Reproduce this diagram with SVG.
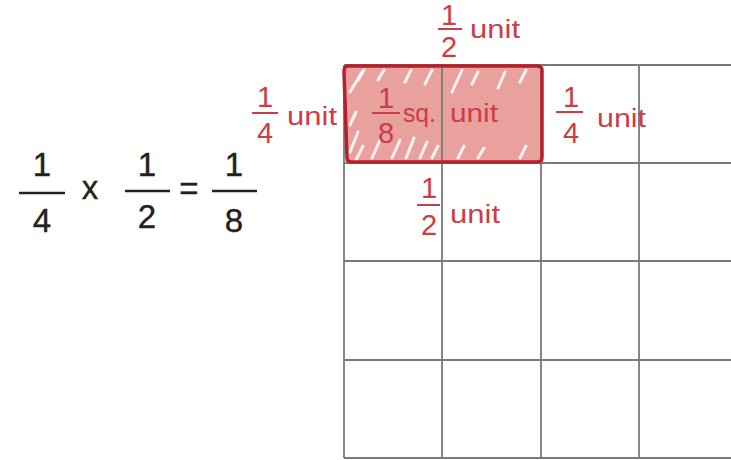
<svg xmlns="http://www.w3.org/2000/svg" width="731" height="460" viewBox="0 0 731 460">
<style>
.eq{font-family:"Liberation Sans",Arial,sans-serif;font-size:33px;fill:#222;text-anchor:middle;stroke:#222;stroke-width:0.4}
.bar{stroke:#222;stroke-width:2.5}
.grid line{stroke:#7a7a7a;stroke-width:1.8}
.lbl{font-family:"Liberation Sans",Arial,sans-serif;font-size:29px;fill:#cc3d48;text-anchor:middle}
.unit{font-family:"Liberation Sans",Arial,sans-serif;font-size:25px;fill:#cc3d48}
.rbar{stroke:#cc3d48;stroke-width:2}
.hatch line{stroke:#fff;stroke-width:3;stroke-linecap:round;opacity:0.85}
</style>
<rect width="731" height="460" fill="#fff"/>
<g id="equation">
<text class="eq" x="42" y="176">1</text>
<line class="bar" x1="19" y1="193" x2="65" y2="193"/>
<text class="eq" x="42" y="232">4</text>
<text class="eq" x="90" y="199">x</text>
<text class="eq" x="147" y="176">1</text>
<line class="bar" x1="125" y1="191" x2="170" y2="191"/>
<text class="eq" x="147" y="228">2</text>
<text class="eq" x="189" y="200">=</text>
<text class="eq" x="234" y="176">1</text>
<line class="bar" x1="212" y1="191" x2="257" y2="191"/>
<text class="eq" x="234" y="232">8</text>
</g>
<g id="shaded-region">
<path d="M348,66 Q344,66 344,72 L347,158 Q347,162 352,162 L538,162 Q542,162 542,157 L542,70 Q542,66 537,66 Z" fill="#e9a19d"/>
<g class="hatch">
<line x1="350" y1="92" x2="362" y2="72"/>
<line x1="358" y1="80" x2="364" y2="70"/>
<line x1="378" y1="80" x2="384" y2="70"/>
<line x1="405" y1="82" x2="411" y2="70"/>
<line x1="425" y1="84" x2="432" y2="70"/>
<line x1="452" y1="92" x2="462" y2="70"/>
<line x1="472" y1="84" x2="478" y2="72"/>
<line x1="498" y1="88" x2="505" y2="72"/>
<line x1="520" y1="82" x2="526" y2="70"/>
<line x1="350" y1="152" x2="358" y2="132"/>
<line x1="356" y1="160" x2="363" y2="146"/>
<line x1="372" y1="158" x2="380" y2="140"/>
<line x1="392" y1="158" x2="400" y2="140"/>
<line x1="406" y1="158" x2="414" y2="138"/>
<line x1="420" y1="158" x2="427" y2="142"/>
<line x1="432" y1="158" x2="438" y2="146"/>
<line x1="458" y1="158" x2="464" y2="146"/>
<line x1="478" y1="158" x2="484" y2="148"/>
<line x1="520" y1="158" x2="526" y2="146"/>
<line x1="350" y1="125" x2="356" y2="112"/>
</g>
</g>
<g id="grid" class="grid">
<line x1="344" y1="65" x2="731" y2="65"/>
<line x1="344" y1="163" x2="731" y2="163"/>
<line x1="344" y1="261" x2="731" y2="261"/>
<line x1="344" y1="360" x2="731" y2="360"/>
<line x1="344" y1="458" x2="731" y2="458"/>
<line x1="344" y1="65" x2="344" y2="458"/>
<line x1="442" y1="65" x2="442" y2="458"/>
<line x1="541" y1="65" x2="541" y2="458"/>
<line x1="639" y1="65" x2="639" y2="458"/>
</g>
<g id="shaded-outline">
<path d="M348,66 Q344,66 344,72 L347,158 Q347,162 352,162 L538,162 Q542,162 542,157 L542,70 Q542,66 537,66 Z" fill="none" stroke="#b7202b" stroke-width="3.5" stroke-linejoin="round"/>
</g>
<g id="label-top">
<text class="lbl" x="449" y="25" font-size="27">1</text>
<line class="rbar" x1="438" y1="29" x2="462" y2="29"/>
<text class="lbl" x="449" y="57">2</text>
<text class="unit" x="470" y="38" textLength="50" lengthAdjust="spacingAndGlyphs">unit</text>
</g>
<g id="label-left">
<text class="lbl" x="265" y="107">1</text>
<line class="rbar" x1="252" y1="113" x2="278" y2="113"/>
<text class="lbl" x="265" y="143">4</text>
<text class="unit" x="287" y="125" textLength="50" lengthAdjust="spacingAndGlyphs">unit</text>
</g>
<g id="label-area">
<text class="lbl" x="386" y="108">1</text>
<line class="rbar" x1="372" y1="113" x2="400" y2="113"/>
<text class="lbl" x="386" y="143">8</text>
<text class="unit" x="403" y="122" textLength="33" lengthAdjust="spacingAndGlyphs">sq.</text>
<text class="unit" x="450" y="122" textLength="48" lengthAdjust="spacingAndGlyphs">unit</text>
</g>
<g id="label-right">
<text class="lbl" x="571" y="107">1</text>
<line class="rbar" x1="556" y1="112" x2="583" y2="112"/>
<text class="lbl" x="571" y="143">4</text>
<text class="unit" x="597" y="127" textLength="49" lengthAdjust="spacingAndGlyphs">unit</text>
</g>
<g id="label-bottom">
<text class="lbl" x="429" y="198">1</text>
<line class="rbar" x1="417" y1="205" x2="440" y2="205"/>
<text class="lbl" x="429" y="235">2</text>
<text class="unit" x="450" y="223" textLength="50" lengthAdjust="spacingAndGlyphs">unit</text>
</g>
</svg>
